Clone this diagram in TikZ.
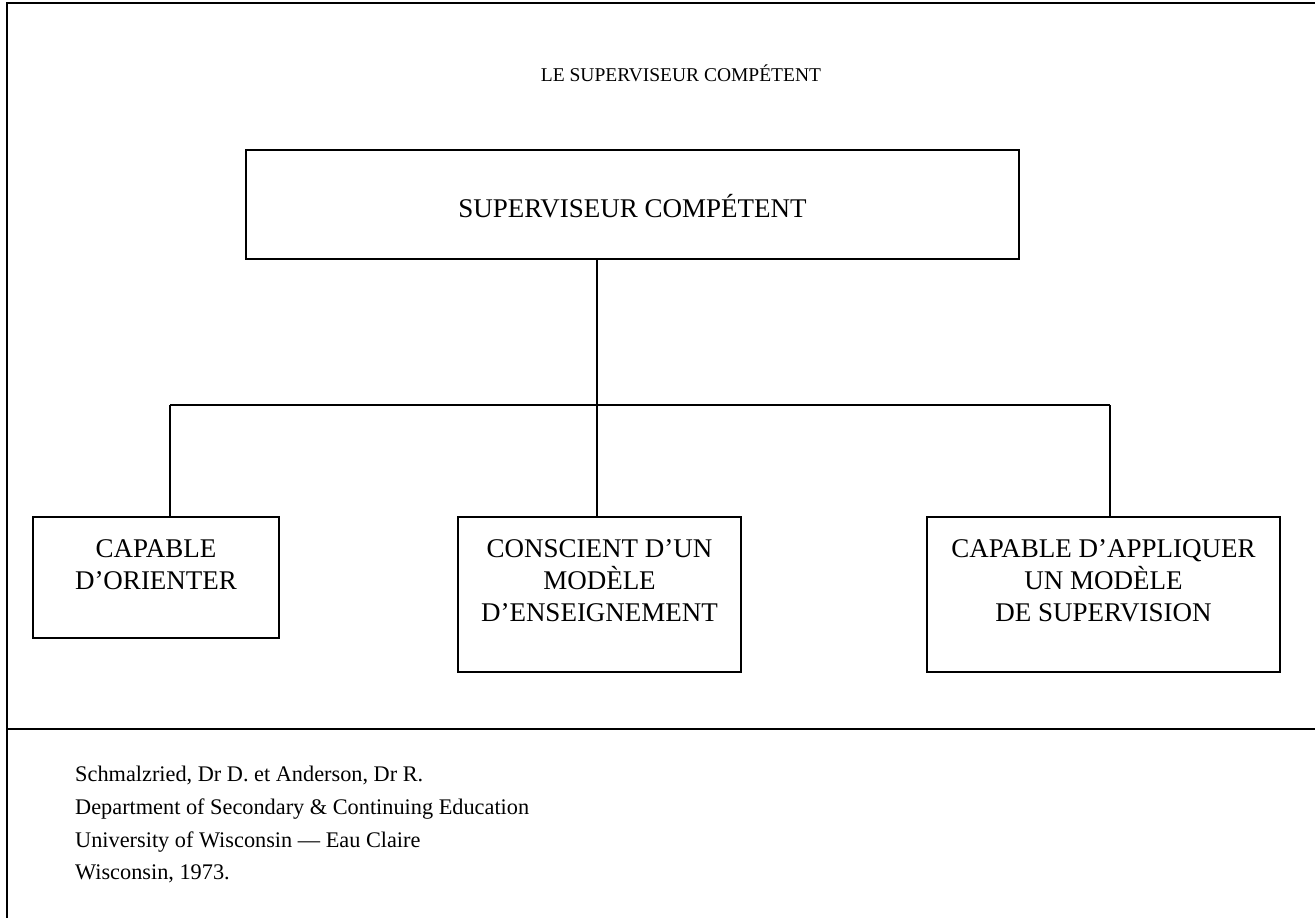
\documentclass[tikz,border=0pt]{standalone}
\usepackage{fontspec}
\setmainfont{Liberation Serif}
\begin{document}
\begin{tikzpicture}[x=1pt,y=-1pt,
  frame/.style={line width=2pt},
  conn/.style={line width=1.2pt},
  box/.style={draw, line width=1.4pt, inner sep=0pt},
  boxtext/.style={align=center, inner sep=0pt,
    font=\fontsize{27}{32}\selectfont},
  title/.style={font=\fontsize{19.5}{22}\selectfont},
  foot/.style={align=left, inner sep=0pt, anchor=north west,
    font=\fontsize{22.3}{32.7}\selectfont}]
\useasboundingbox (0,0) rectangle (1315,918);
% frame
\draw[frame] (7,918) -- (7,3) -- (1315,3);
\draw[frame] (7,729) -- (1315,729);
% title
\node[title] (ttl) at (681,73) {LE SUPERVISEUR COMPÉTENT};
% boxes
\node[box, minimum width=773pt, minimum height=109pt] (top) at (632.5,204.5) {};
\node[boxtext] (toptxt) at ([yshift=-2pt]top.center) {SUPERVISEUR COMPÉTENT};
\node[box, minimum width=246pt, minimum height=121pt] (left) at (156,577.5) {};
\node[boxtext] (lefttxt) at ([yshift=13pt]left.center) {CAPABLE\\D'ORIENTER};
\node[box, minimum width=283pt, minimum height=155pt] (mid) at (599.5,594.5) {};
\node[boxtext] (midtxt) at ([yshift=14pt]mid.center) {CONSCIENT D'UN\\MODÈLE\\D'ENSEIGNEMENT};
\node[box, minimum width=353pt, minimum height=155pt] (right) at (1103.5,594.5) {};
\node[boxtext] (righttxt) at ([yshift=14pt]right.center) {CAPABLE D'APPLIQUER\\UN MODÈLE\\DE SUPERVISION};
% connectors
\coordinate (hub) at (597,405);
\coordinate (hl) at (170,405);
\coordinate (hr) at (1110,405);
\draw[conn] (top.south -| hub) -- (hub);
\draw[conn] (hl) -- (hr);
\draw[conn] (hl) -- (left.north -| hl);
\draw[conn] (hub) -- (mid.north -| hub);
\draw[conn] (hr) -- (right.north -| hr);
% footer
\node[foot] (ref) at (75,766) {Schmalzried, Dr D. et Anderson, Dr R.\\Department of Secondary \& Continuing Education\\University of Wisconsin --- Eau Claire\\Wisconsin, 1973.};
\end{tikzpicture}
\end{document}
